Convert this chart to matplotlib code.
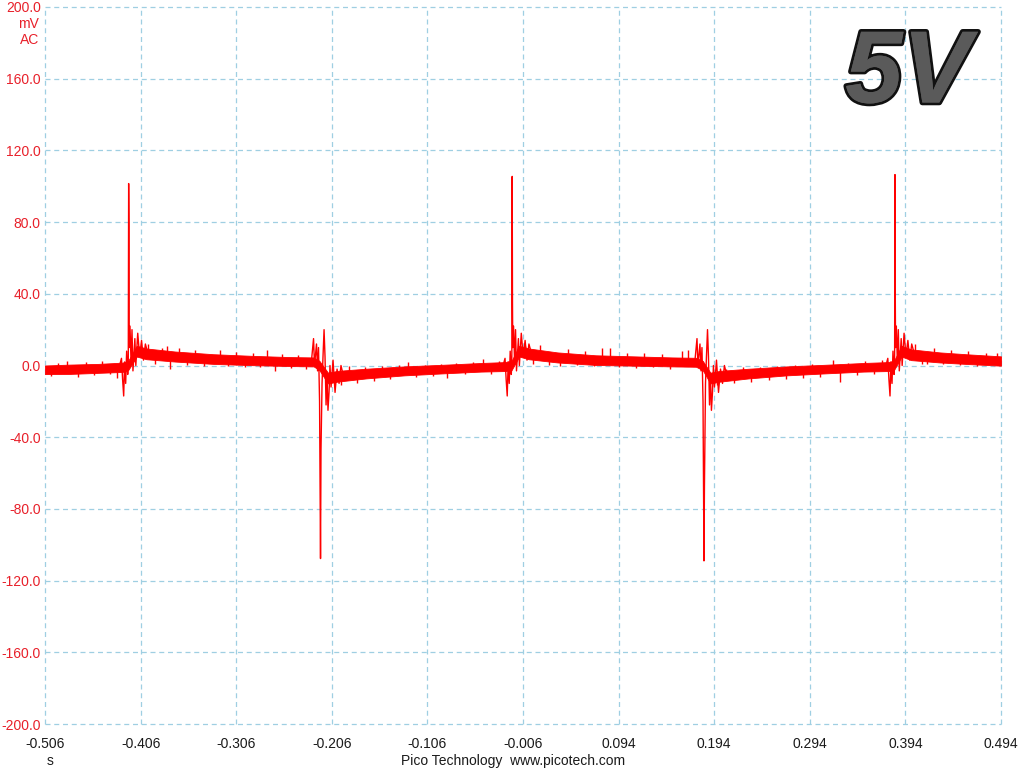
import matplotlib
matplotlib.use('Agg')
import matplotlib.pyplot as plt
import matplotlib.patheffects as pe
import numpy as np

# ---- data read off the scope capture ----
# slow baseline (band centre and half width, mV) between the transients
band_t = [-0.506, -0.48, -0.45, -0.425, -0.419, -0.410, -0.40, -0.37, -0.33, -0.29,
          -0.25, -0.225, -0.219, -0.210, -0.20, -0.17, -0.13, -0.09, -0.05, -0.025,
          -0.018, -0.010, 0.0, 0.03, 0.07, 0.11, 0.15, 0.175, 0.182, 0.190,
          0.20, 0.23, 0.27, 0.31, 0.35, 0.376, 0.382, 0.390, 0.40, 0.43,
          0.46, 0.494]
band_mid = [-2.4, -2.1, -1.6, -1.0, 0.0, 8.0, 6.5, 5.0, 3.6, 2.8,
            2.2, 2.0, 0.0, -7.0, -6.0, -4.5, -3.0, -2.0, -1.0, -0.6,
            0.0, 8.0, 6.5, 4.5, 3.0, 2.5, 2.0, 1.8, 0.0, -7.0,
            -6.0, -4.5, -3.0, -2.0, -1.0, -0.6, 0.0, 8.0, 6.0, 4.5,
            3.5, 2.5]
band_half = [2.4, 2.6, 2.5, 2.6, 2.6, 3.0, 3.0, 2.8, 2.7, 2.6,
             2.5, 2.5, 2.6, 3.0, 3.0, 2.7, 2.5, 2.4, 2.4, 2.5,
             2.6, 3.0, 3.0, 2.8, 2.7, 2.6, 2.5, 2.5, 2.6, 3.0,
             3.0, 2.7, 2.5, 2.4, 2.4, 2.5, 2.6, 3.0, 3.0, 2.8,
             2.7, 2.6]

# noise glitches poking out of the band (s, mV)
glitch_t = [-0.500, -0.492, -0.483, -0.472, -0.463, -0.455, -0.446, -0.438, -0.4307,
            -0.398, -0.391, -0.384, -0.3784, -0.3752, -0.366, -0.357, -0.349, -0.340,
            -0.3229, -0.315, -0.306, -0.297, -0.288, -0.281, -0.2738, -0.2654, -0.258,
            -0.249, -0.241, -0.233, -0.196, -0.188, -0.180, -0.171, -0.162, -0.154,
            -0.145, -0.136, -0.1263, -0.118, -0.109, -0.100, -0.092, -0.0855, -0.076,
            -0.067, -0.058, -0.0478, -0.039, -0.031, -0.004, 0.004, 0.012, 0.021,
            0.0327, 0.041, 0.050, 0.059, 0.068, 0.0766, 0.0850, 0.094, 0.103, 0.112,
            0.121, 0.130, 0.139, 0.148, 0.1603, 0.1666, 0.197, 0.206, 0.215, 0.224,
            0.233, 0.242, 0.251, 0.260, 0.269, 0.278, 0.287, 0.296, 0.305, 0.3183,
            0.3256, 0.334, 0.343, 0.352, 0.361, 0.369, 0.404, 0.411, 0.4166, 0.424,
            0.433, 0.442, 0.451, 0.460, 0.469, 0.478, 0.4898]
glitch_v = [-6.0, 1.5, 2.5, -6.5, 2.0, -5.5, 2.5, -5.0, -7.0,
            12.0, 1.0, 10.0, 11.0, -2.0, 9.5, 0.5, 8.5, 0.0,
            8.4, -0.5, 7.5, -1.0, 7.0, -1.0, 8.4, -3.0, 6.5,
            -1.5, 6.0, -2.0, -11.0, 0.0, -9.5, -1.0, -8.5, -0.5,
            -7.5, 0.5, 1.8, -6.5, 0.5, -6.0, 1.0, -7.0, 1.5,
            -5.0, 2.0, 3.9, -4.5, 2.5, 11.0, 1.0, 11.5, 0.5,
            -0.5, 9.0, 0.5, 8.0, -0.5, 9.5, 9.5, -1.0, 7.0, -1.5,
            7.0, -1.0, 6.5, -2.0, 8.0, 8.4, -11.0, -2.0, -10.0, -1.0,
            -9.0, -1.0, -8.0, 0.0, -7.5, 0.5, -7.0, 1.0, -6.5, 3.3,
            -9.0, 1.5, -5.5, 2.5, -5.0, 3.0, 12.0, 1.0, 1.0, 9.5,
            1.0, 8.5, 0.5, 8.0, -0.5, 7.0, 7.0]

# positive transients
pos_time = [-0.4185, -0.0173, 0.3831]
pos_peak = [101.5, 105.5, 106.5]
pos_second = [78.0, 35.0, 40.0]
pos_dt = [-10.0, -7.5, -6.3, -5.2, -4.2, -3.1, -2.1, -1.0, -0.4, 0.0, 0.3, 0.6,
          1.4, 2.5, 3.5, 4.5, 6.5, 7.5, 9.5, 11.5, 13.5, 15.5, 17.5, 20.0]
pos_v = [-1, 4, -8, -17, 2, -10, 8, -5, 0, None, None, 10,
         22, 2, 20, -3, 15, 0, 18, 5, 14, 3, 12, 7]

# negative transients
neg_time = [-0.2178, 0.1833]
neg_peak = [-107.7, -109.0]
neg_second = [-47.0, -67.0]
neg_dt = [-12.5, -9.4, -7.3, -6.3, -4.2, -3.1, -2.1, -1.0, 0.0, 0.5, 1.6, 2.6,
          3.7, 4.7, 5.8, 6.8, 7.8, 8.9, 9.9, 11.0, 13.1, 15.2, 17.3, 19.4, 21.4, 24.0]
neg_v = [2, 3, 15, 0, 12, -3, 10, -20, None, None, -10, 5,
         20, 5, -22, -5, -25, -15, 0, -12, 3, -15, -2, -10, 0, -6]

x_ticks = [-0.506, -0.406, -0.306, -0.206, -0.106, -0.006, 0.094, 0.194, 0.294, 0.394, 0.494]
y_ticks = [-200, -160, -120, -80, -40, 0, 40, 80, 120, 160, 200]

RED = '#ff0000'
LABEL_RED = '#e8202a'
GRID = '#9fcfe2'

fig = plt.figure(figsize=(10.24, 7.68), dpi=100)
ax = fig.add_axes([45 / 1024, 1 - 724 / 768, 956 / 1024, 717 / 768])
ax.set_xlim(-0.506, 0.494)
ax.set_ylim(-200, 200)

# baseline noise band
lo = [m - h for m, h in zip(band_mid, band_half)]
hi = [m + h for m, h in zip(band_mid, band_half)]
ax.fill_between(band_t, lo, hi, color=RED, linewidth=0.6, edgecolor=RED, zorder=3)

# glitches start from the band centre
glitch_base = np.interp(glitch_t, band_t, band_mid)
ax.vlines(glitch_t, glitch_base, glitch_v, color=RED, linewidth=1.0, zorder=3)

# transients
for t0, pk, sec in zip(pos_time, pos_peak, pos_second):
    vals = list(pos_v)
    vals[9] = pk
    vals[10] = sec
    ax.plot([t0 + d / 1000 for d in pos_dt], vals, color=RED, linewidth=1.0, zorder=4)

for t0, pk, sec in zip(neg_time, neg_peak, neg_second):
    vals = list(neg_v)
    vals[8] = pk
    vals[9] = sec
    ax.plot([t0 + d / 1000 for d in neg_dt], vals, color=RED, linewidth=1.0, zorder=4)

# axes styling
for s in ax.spines.values():
    s.set_visible(False)
ax.set_xticks(x_ticks)
ax.set_xticklabels(['%.3f' % v for v in x_ticks])
ax.set_yticks(y_ticks)
ax.set_yticklabels(['%.1f' % v for v in y_ticks])
ax.tick_params(axis='both', length=0)
ax.tick_params(axis='y', colors=LABEL_RED, labelsize=10, pad=3)
ax.tick_params(axis='x', colors='#1a1a1a', labelsize=10, pad=9)
for lab in ax.get_xticklabels() + ax.get_yticklabels():
    lab.set_fontfamily('Liberation Sans')
ax.grid(True, color=GRID, linestyle=(0, (4, 3)), linewidth=0.9, zorder=0)
for gl in ax.get_xgridlines() + ax.get_ygridlines():
    gl.set_clip_on(False)
ax.set_axisbelow(True)

# units and footer
fig.text(39 / 1024, 1 - 24 / 768, 'mV', color=LABEL_RED, fontsize=10,
         family='Liberation Sans', ha='right', va='center')
fig.text(39 / 1024, 1 - 40 / 768, 'AC', color=LABEL_RED, fontsize=10,
         family='Liberation Sans', ha='right', va='center')
fig.text(50 / 1024, 1 - 761 / 768, 's', color='#1a1a1a', fontsize=10,
         family='Liberation Sans', ha='center', va='center')
fig.text(513 / 1024, 1 - 761 / 768, 'Pico Technology  www.picotech.com', color='#1a1a1a',
         fontsize=10, family='Liberation Sans', ha='center', va='center')

# big "5V" badge
fig.text(908 / 1024, 1 - 76 / 768, '5V', fontsize=74, weight='bold', style='italic',
         family='Liberation Sans', color='#5a5a5a', ha='center', va='center',
         path_effects=[pe.withStroke(linewidth=4, foreground='#111111'),
                       pe.Normal()])

fig.savefig('out.png', dpi=100, facecolor='white')
